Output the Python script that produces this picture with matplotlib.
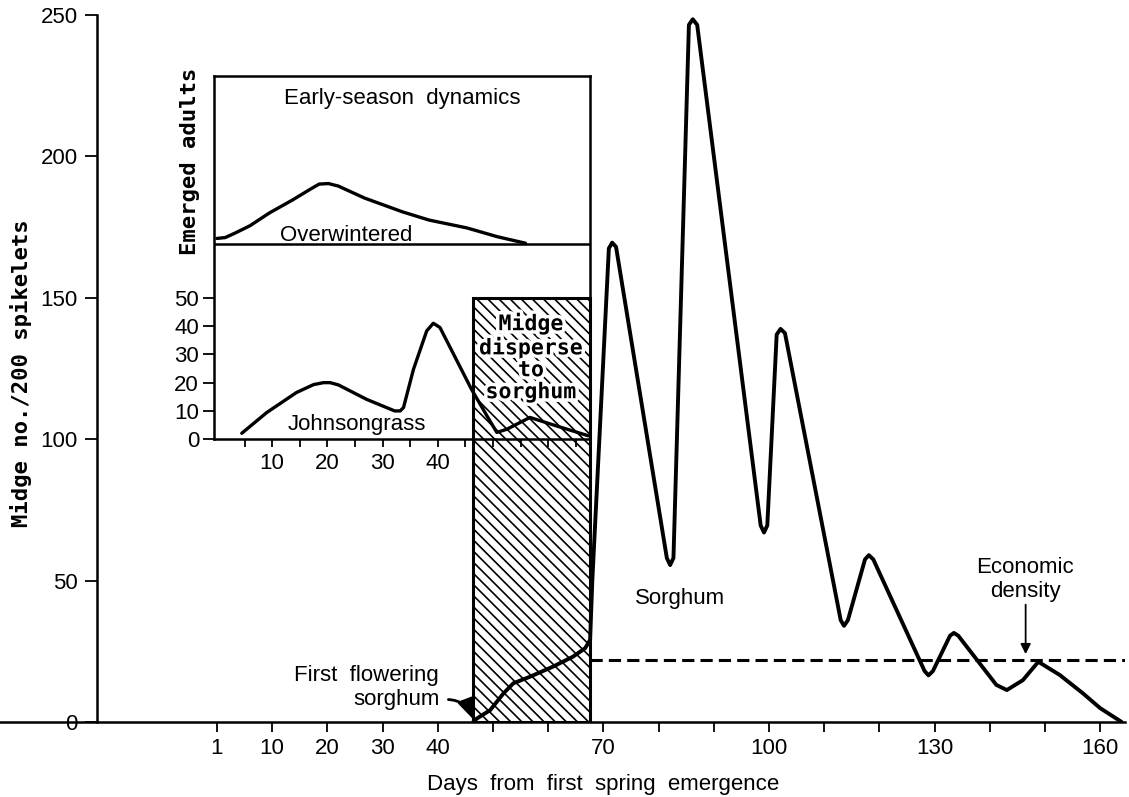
import matplotlib
matplotlib.use("Agg")
import matplotlib.pyplot as plt
import matplotlib.patheffects as pe
from matplotlib.patches import Rectangle

# main curve: midge per 200 spikelets on sorghum (x = days, 0 == day "1")
sorghum_day = [46.5, 49.5, 51.9, 53.7, 56.7, 60.9, 64.5, 66.7, 67.6, 68.0,
               71.0, 71.6, 72.3, 81.5, 82.1, 82.7, 85.5, 86.2, 87.0,
               98.5, 99.1, 99.7, 101.4, 102.1, 102.9, 113.0, 113.6, 114.3,
               117.4, 118.1, 118.9, 128.2, 128.9, 129.7, 132.8, 133.5, 134.3,
               141.2, 143.1, 146.0, 148.8, 152.7, 156.9, 160.0, 163.9]
sorghum_midge = [0.5, 4.2, 10.1, 13.7, 16.0, 19.6, 23.1, 26.1, 29.0, 50.0,
                 167.5, 169.5, 168.0, 58.0, 55.5, 58.0, 246.5, 248.5, 246.5,
                 69.5, 67.0, 69.5, 137.0, 139.0, 137.5, 36.0, 34.0, 36.0,
                 57.5, 59.0, 57.5, 18.0, 16.5, 18.0, 30.5, 31.5, 30.5,
                 13.1, 11.3, 14.8, 21.3, 16.6, 10.1, 4.9, 0.0]

# inset: overwintered emerged adults (upper panel, inset units)
emerged_day = [0.0, 1.5, 3.3, 6.0, 9.5, 13.7, 17.0, 18.5, 20.2, 22.0,
               26.7, 33.6, 38.4, 45.3, 50.8, 55.9]
emerged_val = [71.0, 71.3, 72.9, 75.5, 80.0, 84.6, 88.5, 90.2, 90.4, 89.5,
               85.3, 80.4, 77.5, 74.7, 71.6, 69.3]

# inset: midge on johnsongrass (lower panel, 0-50)
johnson_day = [4.5, 9.0, 14.4, 17.5, 19.3, 20.5, 22.0, 27.1, 32.2, 33.2,
               33.8, 35.6, 38.0, 39.2, 40.4, 46.1, 48.9, 50.7, 52.5, 56.7,
               61.5, 67.3]
johnson_val = [2.1, 9.4, 16.5, 19.3, 20.0, 20.0, 19.2, 14.1, 10.0, 10.0,
               11.2, 24.7, 38.3, 41.0, 39.5, 17.7, 8.3, 2.4, 3.5, 7.7,
               4.7, 1.2]

x_ticks = [0, 10, 20, 30, 40, 50, 60, 70, 80, 90, 100, 110, 120, 130, 140, 150, 160]
x_labels = ["1", "10", "20", "30", "40", "", "", "70", "", "", "100", "", "", "130", "", "", "160"]
y_ticks = [0, 50, 100, 150, 200, 250]
inset_x_ticks = [5, 10, 15, 20, 25, 30, 35, 40, 45, 50, 55, 60, 65]
inset_x_labels = ["", "10", "", "20", "", "30", "", "40", "", "", "", "", ""]
inset_y_ticks = [0, 10, 20, 30, 40, 50]

disperse_start = 46.3
disperse_end = 67.6
disperse_top = 150
economic_density = 22
inset_left = -0.6     # inset frame starts just left of day "1"
inset_base = 100      # inset zero sits at main 100
inset_divider = 69    # overwintered baseline (inset units)
inset_top = 128.4

plt.rcParams['font.family'] = ['Liberation Sans', 'DejaVu Sans']
plt.rcParams['hatch.linewidth'] = 1.2
mono = ['DejaVu Sans Mono']
fs = 16

fig = plt.figure(figsize=(11.29, 7.97), dpi=100)
ax = fig.add_axes([0, 1 - 722 / 797, 1125 / 1129, 707 / 797])
ax.set_xlim(-39.3, 164.5)
ax.set_ylim(0, 250)

for s in ['top', 'right']:
    ax.spines[s].set_visible(False)
ax.spines['left'].set_position(('data', -21.7))
ax.spines['left'].set_linewidth(1.8)
ax.spines['bottom'].set_linewidth(1.8)

ax.set_xticks(x_ticks)
ax.set_xticklabels(x_labels)
ax.set_yticks(y_ticks)
ax.tick_params(axis='x', direction='out', length=7.5, width=1.3, labelsize=fs, pad=4)
ax.tick_params(axis='y', direction='out', length=8.5, width=1.3, labelsize=fs, pad=5.5)

# dispersal period box
ax.add_patch(Rectangle((disperse_start, 0), disperse_end - disperse_start, disperse_top,
                       facecolor='white', edgecolor='black', hatch='\\\\\\', lw=2.2, zorder=2))

ax.plot(sorghum_day, sorghum_midge, color='black', lw=2.8,
        solid_joinstyle='round', solid_capstyle='round', zorder=4)
ax.hlines(economic_density, disperse_end, ax.get_xlim()[1], colors='black',
          linestyles=(0, (4, 2)), lw=2.2, zorder=3)

ax.text(56.9, 129, "Midge\ndisperse\nto\nsorghum", family=mono, weight='bold',
        fontsize=15.5, ha='center', va='center', linespacing=1.12, zorder=6,
        path_effects=[pe.withStroke(linewidth=5, foreground='white')])

ax.text(83.9, 43.8, "Sorghum", fontsize=fs, ha='center', va='center')
ax.text(146.4, 50.4, "Economic\ndensity", fontsize=fs, ha='center', va='center',
        linespacing=1.2)
ax.annotate('', xy=(146.5, economic_density + 1), xytext=(146.5, 42.5),
            arrowprops=dict(arrowstyle='-|>', lw=1.3, color='black', mutation_scale=15))
ax.text(27.0, 16.3, "First  flowering", fontsize=fs, ha='center', va='center')
ax.annotate("sorghum", xy=(disperse_start + 0.2, 0.8), xytext=(32.6, 7.8),
            fontsize=fs, ha='center', va='center',
            arrowprops=dict(arrowstyle='-|>,head_length=0.7,head_width=0.3',
                            connectionstyle='arc3,rad=-0.4', lw=2.0, color='black',
                            mutation_scale=18, shrinkA=4, shrinkB=0, relpos=(1, 0.5)))

ax.set_xlabel("Days  from  first  spring  emergence", fontsize=fs)
ax.xaxis.set_label_coords(603 / 1125, -(774 - 722) / 707)
ax.xaxis.label.set_va('top')
fig.text(21.5 / 1129, 1 - 373 / 797, "Midge no./200 spikelets", family=mono, weight='bold',
         fontsize=16, rotation=90, ha='center', va='center')

# early-season inset, same day and midge scales as the main axes
ins = ax.inset_axes([inset_left, inset_base, disperse_end - inset_left, inset_top],
                    transform=ax.transData)
ins.set_xlim(inset_left, disperse_end)
ins.set_ylim(0, inset_top)
ins.patch.set_facecolor('none')
for s in ins.spines.values():
    s.set_linewidth(1.8)
ins.axhline(inset_divider, color='black', lw=1.8)
ins.set_xticks(inset_x_ticks)
ins.set_xticklabels(inset_x_labels)
ins.set_yticks(inset_y_ticks)
ins.tick_params(axis='x', direction='out', length=6, width=1.3, labelsize=fs, pad=4)
ins.tick_params(axis='y', direction='out', length=8, width=1.3, labelsize=fs, pad=2.5)

ins.plot(emerged_day, emerged_val, color='black', lw=2.4,
         solid_joinstyle='round', solid_capstyle='round')
ins.plot(johnson_day, johnson_val, color='black', lw=2.4,
         solid_joinstyle='round', solid_capstyle='round')

ins.text(33.6, 120.6, "Early-season  dynamics", fontsize=fs, ha='center', va='center')
ins.text(23.4, 72.2, "Overwintered", fontsize=fs, ha='center', va='center')
ins.text(25.4, 5.3, "Johnsongrass", fontsize=fs, ha='center', va='center')
ins.set_ylabel("Emerged adults", family=mono, weight='bold', fontsize=16)
ins.yaxis.set_label_coords(-0.035, 0.766)

fig.savefig("out.png", dpi=100)
